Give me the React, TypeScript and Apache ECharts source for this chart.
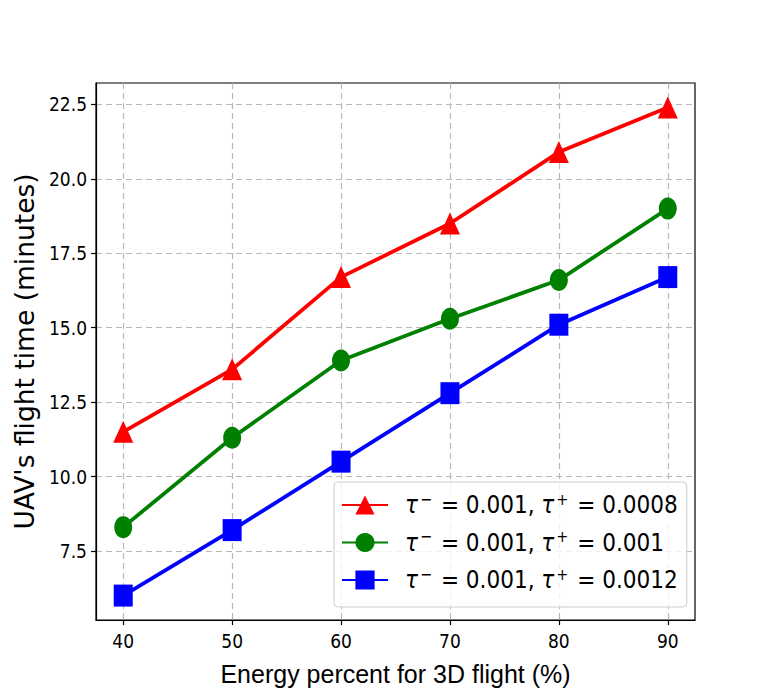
import React, { useEffect, useRef } from 'react';
import * as echarts from 'echarts';

const energyPercent = [40, 50, 60, 70, 80, 90];
const tauMinus = '0.001';
const tauPlusValues = ['0.0008', '0.001', '0.0012'];
const flightTimeLowTau = [11.5, 13.6, 16.7, 18.5, 20.9, 22.4];
const flightTimeMidTau = [8.3, 11.3, 13.9, 15.3, 16.6, 19.0];
const flightTimeHighTau = [6.0, 8.2, 10.5, 12.8, 15.1, 16.7];
const xTickValues = [40, 50, 60, 70, 80, 90];
const yTickValues = [7.5, 10, 12.5, 15, 17.5, 20, 22.5];
const xAxisTitle = 'Energy percent for 3D flight (%)';
const yAxisTitle = "UAV's flight time (minutes)";

const seriesColors = ['#ff0000', '#008000', '#0000ff'];
const seriesSymbols = ['triangle', 'circle', 'rect'];
const seriesSymbolSizes = [[20, 22], [18, 22], [19, 22]];
const seriesValues = [flightTimeLowTau, flightTimeMidTau, flightTimeHighTau];

const tickFont = "'DejaVu Sans Condensed', 'DejaVu Sans', sans-serif";

export default function App() {
  const ref = useRef<HTMLDivElement>(null);
  useEffect(() => {
    if (!ref.current) return;
    const chart = echarts.init(ref.current, null, { renderer: 'svg' });
    const series = tauPlusValues.map((tp, i) => ({
      type: 'line',
      name: tp,
      data: energyPercent.map((x, j) => [x, seriesValues[i][j]]),
      symbol: seriesSymbols[i],
      symbolSize: seriesSymbolSizes[i],
      showAllSymbol: true,
      color: seriesColors[i],
      itemStyle: { color: seriesColors[i] },
      lineStyle: { color: seriesColors[i], width: 3.8 },
      emphasis: { disabled: true },
      z: 3 + i,
    }));
    chart.setOption({
      animation: false,
      grid: {
        left: 96,
        right: 77,
        top: 83,
        bottom: 77,
        show: true,
        borderColor: '#000',
        borderWidth: 1.2,
        backgroundColor: 'transparent',
      },
      xAxis: {
        type: 'value',
        min: 37.5,
        max: 92.5,
        name: xAxisTitle,
        nameLocation: 'middle',
        nameGap: 41,
        nameTextStyle: { fontFamily: 'Liberation Sans', fontSize: 25, color: '#000' },
        axisLine: { show: true, onZero: false, lineStyle: { color: '#000', width: 1.2 } },
        axisTick: { show: true, length: 5, customValues: xTickValues, lineStyle: { color: '#000', width: 1.2 } },
        axisLabel: {
          customValues: xTickValues,
          margin: 11,
          fontFamily: tickFont,
          fontSize: 19,
          color: '#000',
          formatter: (v: number) => String(v),
        },
        splitLine: { show: true, lineStyle: { color: '#b8b8b8', type: [6, 4], width: 1.2 } },
      },
      yAxis: {
        type: 'value',
        min: 5.18,
        max: 23.22,
        name: yAxisTitle,
        nameLocation: 'middle',
        nameGap: 54,
        nameTextStyle: { fontFamily: 'DejaVu Sans', fontSize: 26.5, color: '#000' },
        axisLine: { show: true, onZero: false, lineStyle: { color: '#000', width: 1.2 } },
        axisTick: { show: true, length: 5, customValues: yTickValues, lineStyle: { color: '#000', width: 1.2 } },
        axisLabel: {
          customValues: yTickValues,
          margin: 9,
          fontFamily: tickFont,
          fontSize: 19,
          color: '#000',
          formatter: (v: number) => v.toFixed(1),
        },
        splitLine: { show: true, lineStyle: { color: '#b8b8b8', type: [6, 4], width: 1.2 } },
      },
      legend: {
        orient: 'vertical',
        left: 334,
        top: 482,
        padding: [9, 9, 13, 7],
        itemGap: 9.5,
        itemWidth: 46,
        itemHeight: 24,
        backgroundColor: 'rgba(255,255,255,0.8)',
        borderColor: '#cccccc',
        borderWidth: 1,
        borderRadius: 4,
        data: tauPlusValues,
        formatter: (name: string) =>
          `{g|}{t|τ}{s|−}{n| = ${tauMinus}, }{t|τ}{s|+}{n| = ${name}}`,
        textStyle: {
          fontFamily: tickFont,
          fontSize: 24,
          color: '#000',
          lineHeight: 28,
          rich: {
            g: { width: 12, lineHeight: 28 },
            t: { fontFamily: tickFont, fontSize: 24, fontStyle: 'italic', color: '#000', lineHeight: 28 },
            s: { fontFamily: tickFont, fontSize: 16, color: '#000', lineHeight: 16, verticalAlign: 'top', padding: [0, 2, 0, 2] },
            n: { fontFamily: tickFont, fontSize: 24, color: '#000', lineHeight: 28 },
          },
        },
      },
      series,
    });
    return () => chart.dispose();
  }, []);
  return (
    <div
      ref={ref}
      style={{ position: 'fixed', left: 0, top: 0, width: 772, height: 697, background: '#fff' }}
    />
  );
}
